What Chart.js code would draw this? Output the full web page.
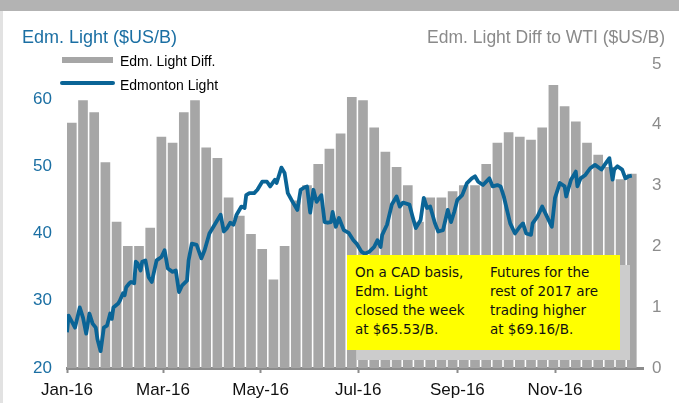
<!DOCTYPE html>
<html>
<head>
<meta charset="utf-8">
<script src="https://cdn.jsdelivr.net/npm/chart.js@4.4.1/dist/chart.umd.min.js"></script>
<style>
html, body { margin: 0; padding: 0; background: #fff; }
#wrap { position: relative; width: 679px; height: 403px; overflow: hidden; font-family: 'Liberation Sans', Arial, sans-serif; }
#canvas { position: absolute; left: 0; top: 0; }
.abs { position: absolute; white-space: nowrap; line-height: 1; }
#band { left: 0; top: 0; width: 679px; height: 11px; background: #b3b3b3; }
#edge { left: 0; top: 11px; width: 3px; height: 392px; background: #e2e2e2; }
#titleL { left: 22px; top: 28px; font-size: 18px; color: #1b6fa3; }
#titleR { right: 14px; top: 28.5px; font-size: 17.5px; color: #8a8a8a; }
.swatch { position: absolute; }
#swBar { left: 62px; top: 57px; width: 51px; height: 6px; background: #a6a6a6; }
#swLine { left: 60px; top: 81px; width: 55px; height: 4px; background: #0a6496; border-radius: 2px; }
.legtxt { font-size: 14px; color: #000; left: 120px; }
#shadow { left: 357px; top: 265px; width: 273px; height: 95px; background: #cccccc; }
#note { left: 347px; top: 255px; width: 273px; height: 95px; background: #ffff00; }
.notetxt { font-family: 'Comic Sans MS', 'DejaVu Sans', sans-serif; font-size: 13.5px; line-height: 19px; color: #111; top: 262.5px; white-space: pre; }
</style>
</head>
<body>
<div id="wrap">
  <canvas id="canvas" width="679" height="403"></canvas>
  <div class="abs" id="band"></div>
  <div class="abs" id="edge"></div>
  <div class="abs" id="titleL">Edm. Light ($US/B)</div>
  <div class="abs" id="titleR">Edm. Light Diff to WTI ($US/B)</div>
  <div class="swatch" id="swBar"></div>
  <div class="abs legtxt" style="top:54.2px">Edm. Light Diff.</div>
  <div class="swatch" id="swLine"></div>
  <div class="abs legtxt" style="top:78.2px">Edmonton Light</div>
  <div class="abs" id="shadow"></div>
  <div class="abs" id="note"></div>
  <div class="abs notetxt" style="left:355px">On a CAD basis,
Edm. Light
closed the week
at $65.53/B.</div>
  <div class="abs notetxt" style="left:490px">Futures for the
rest of 2017 are
trading higher
at $69.16/B.</div>
</div>
<script>
// x axis is day of 2016 (0 = 1 Jan)
const monthTickDays = [0, 60, 121, 182, 244, 305];
const monthTickLabels = ['Jan-16', 'Mar-16', 'May-16', 'Jul-16', 'Sep-16', 'Nov-16'];
const leftTicks = [20, 30, 40, 50, 60];

// Edm. Light diff to WTI, one value per week (right axis)
const diffWeekly = [
    4.03, 4.4, 4.2, 3.38, 2.4, 2.0, 2.0, 2.3, 3.8, 3.7,
    4.2, 4.4, 3.62, 3.45, 2.8, 2.5, 2.2, 1.95, 1.45, 2.0,
    2.75, 3.0, 3.35, 3.6, 3.85, 4.45, 4.4, 3.95, 3.55, 3.3,
    3.0, 2.4, 2.8, 2.8, 2.9, 3.0, 3.0, 3.35, 3.7, 3.87,
    3.8, 3.75, 3.95, 4.65, 4.3, 4.05, 3.7, 3.5, 3.3, 3.1,
    3.19
];

// Edmonton Light price (left axis)
const lightDays = [
    0, 1, 5, 8, 10, 12, 14, 16, 18, 19, 21, 23, 25, 27, 28, 29, 32, 33, 35, 36,
    37, 39, 40, 42, 43, 44, 46, 47, 49, 51, 53, 56, 59, 61, 63, 66, 68, 70, 72, 75,
    76, 78, 81, 84, 86, 89, 93, 96, 98, 100, 102, 104, 105, 106, 109, 111, 112, 114, 117, 119,
    122, 125, 127, 130, 131, 134, 136, 138, 141, 144, 146, 148, 150, 152, 154, 156, 159, 161, 163, 165,
    166, 168, 170, 173, 176, 179, 181, 184, 186, 189, 192, 194, 196, 197, 200, 203, 206, 208, 210, 214,
    216, 218, 221, 223, 225, 227, 230, 232, 235, 238, 240, 242, 244, 247, 250, 253, 255, 257, 260, 264,
    266, 269, 271, 273, 275, 277, 280, 283, 285, 287, 290, 291, 294, 297, 300, 303, 305, 308, 311, 312,
    315, 318, 319, 321, 324, 327, 330, 334, 336, 339, 341, 342, 344, 347, 349, 351, 353
];
const lightValues = [
    25.3, 27.8, 26.0, 29.0, 27.5, 25.1, 28.1, 26.6, 26.0, 24.3, 22.5, 26.0, 26.3, 28.1, 27.3, 29.0, 29.6, 30.0, 31.1, 30.8,
    32.0, 32.6, 32.8, 32.6, 35.8, 35.6, 34.5, 35.8, 36.0, 33.5, 32.8, 36.0, 36.5, 37.5, 34.8, 34.3, 34.5, 31.3, 32.3, 33.0,
    36.0, 38.5, 38.3, 36.3, 37.5, 40.0, 41.6, 42.8, 40.3, 40.8, 41.6, 41.3, 42.0, 42.8, 44.0, 43.8, 45.7, 46.0, 46.0, 46.5,
    47.7, 47.7, 47.0, 48.0, 47.5, 49.8, 49.0, 46.0, 44.7, 43.5, 46.5, 46.8, 47.0, 43.1, 46.5, 44.7, 45.7, 41.7, 41.6, 41.7,
    43.2, 41.0, 42.3, 40.5, 40.1, 39.0, 38.5, 37.3, 37.0, 37.3, 38.0, 39.0, 38.0, 39.8, 41.3, 44.3, 45.5, 44.0, 44.6, 44.3,
    42.5, 40.8, 42.0, 45.3, 43.8, 44.0, 41.5, 40.3, 40.5, 43.5, 41.7, 43.2, 45.0, 45.7, 47.5, 48.2, 48.5, 47.7, 47.2, 48.2,
    47.0, 47.2, 47.0, 45.5, 43.5, 41.5, 40.0, 41.0, 41.5, 40.0, 39.8, 41.5, 42.5, 44.0, 42.5, 41.0, 45.3, 47.5, 47.0, 45.5,
    48.0, 49.2, 47.0, 48.2, 48.7, 49.7, 50.2, 49.5, 50.2, 51.2, 48.0, 49.5, 50.0, 49.5, 48.2, 48.5, 48.6
];

const tickFont = { family: "'Liberation Sans', Arial, sans-serif", size: 17 };

const ctx = document.getElementById('canvas').getContext('2d');

new Chart(ctx, {
    type: 'bar',
    data: {
        datasets: [
            {
                type: 'line',
                label: 'Edmonton Light',
                data: lightDays.map((d, i) => ({ x: d, y: lightValues[i] })),
                yAxisID: 'y',
                borderColor: '#0a6496',
                borderWidth: 3.8,
                borderJoinStyle: 'round',
                pointRadius: 0,
                tension: 0,
                order: 0
            },
            {
                type: 'bar',
                label: 'Edm. Light Diff.',
                data: diffWeekly.map((v, i) => ({ x: 3 + 7 * i, y: v })),
                yAxisID: 'y2',
                backgroundColor: '#a6a6a6',
                barThickness: 9,
                order: 1
            }
        ]
    },
    options: {
        responsive: false,
        animation: false,
        layout: { padding: { top: 64, left: 0, right: 0, bottom: 0 } },
        plugins: {
            legend: { display: false },
            tooltip: { enabled: false }
        },
        scales: {
            x: {
                type: 'linear',
                min: 0,
                max: 360,
                offset: false,
                afterBuildTicks: (s) => { s.ticks = monthTickDays.map(v => ({ value: v })); },
                afterFit: (s) => { s.height = 35; },
                ticks: {
                    callback: (v, i) => monthTickLabels[i],
                    color: '#111',
                    font: tickFont,
                    padding: 7,
                    maxRotation: 0,
                    autoSkip: false
                },
                grid: {
                    offset: false,
                    drawOnChartArea: false,
                    tickLength: 5,
                    tickWidth: 2,
                    tickColor: '#8c8c8c'
                },
                border: { color: '#8c8c8c', width: 3 }
            },
            y: {
                position: 'left',
                min: 20,
                max: 65.2,
                afterBuildTicks: (s) => { s.ticks = leftTicks.map(v => ({ value: v })); },
                afterFit: (s) => { s.width = 67; },
                ticks: { color: '#1b6fa3', font: tickFont, padding: 15 },
                grid: { display: false, drawTicks: false },
                border: { display: false }
            },
            y2: {
                position: 'right',
                min: 0,
                max: 5,
                afterFit: (s) => { s.width = 36; },
                ticks: { stepSize: 1, color: '#8c8c8c', font: tickFont, padding: 9 },
                grid: { display: false, drawTicks: false },
                border: { display: false }
            }
        }
    }
});
</script>
</body>
</html>
